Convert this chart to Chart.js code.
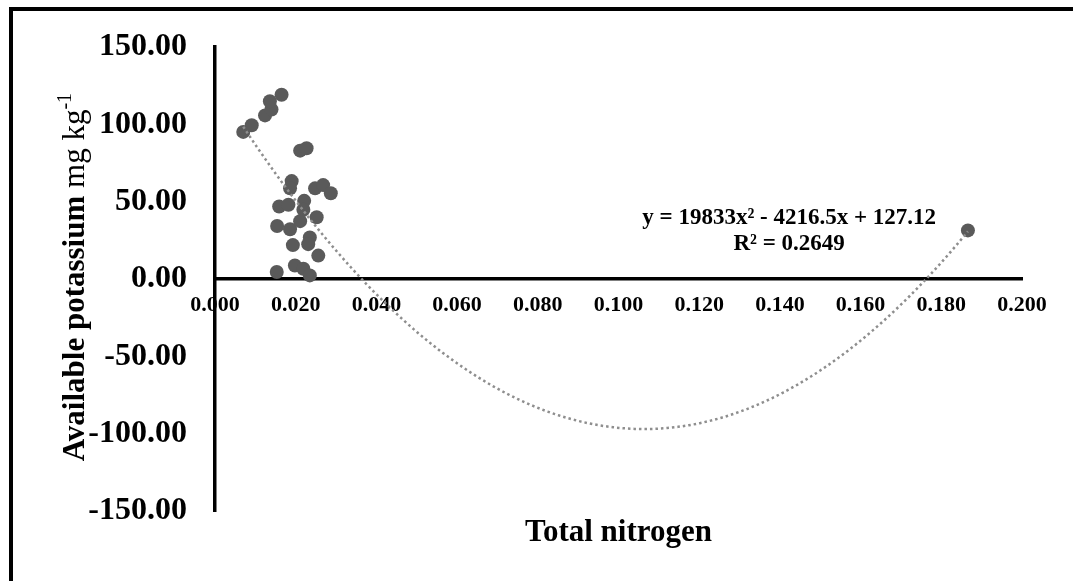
<!DOCTYPE html>
<html>
<head>
<meta charset="utf-8">
<script src="https://cdn.jsdelivr.net/npm/chart.js@4"></script>
<style>
  html, body { margin: 0; padding: 0; background: #fff; }
  #wrap { position: relative; width: 1073px; height: 581px; overflow: hidden; }
  #frame {
    position: absolute; left: 9px; top: 7px; width: 1100px; height: 600px;
    border-top: 4px solid #000; border-left: 4px solid #000; pointer-events: none;
  }
</style>
</head>
<body>
<div id="wrap">
  <canvas id="chart" width="1073" height="581"></canvas>
  <div id="frame"></div>
</div>
<script>
// Total nitrogen (x) vs available potassium (y)
const nitrogenValues = [
  0.0070, 0.0091, 0.0124, 0.0140, 0.0136, 0.0165, 0.0211, 0.0227, 0.0190, 0.0186,
  0.0248, 0.0268, 0.0287, 0.0159, 0.0182, 0.0221, 0.0219, 0.0252, 0.0154, 0.0186,
  0.0211, 0.0235, 0.0193, 0.0231, 0.0256, 0.0153, 0.0198, 0.0219, 0.0235, 0.1866
];
const potassiumValues = [
  95.2, 99.5, 105.9, 109.7, 115.0, 119.2, 83.1, 84.6, 63.4, 58.7,
  58.7, 60.8, 55.5, 47.0, 48.1, 50.6, 44.9, 40.0, 34.3, 32.2,
  37.5, 26.9, 22.0, 22.6, 15.2, 4.6, 8.8, 6.7, 2.4, 31.5
];
// polynomial trendline as printed on the chart: y = a x^2 + b x + c
const trendCoefs = [19833, -4216.5, 127.12];
const equationLines = ['y = 19833x² - 4216.5x + 127.12', 'R² = 0.2649'];

const xTicks = { min: 0, max: 0.2, step: 0.02 };
const yTicks = { min: -150, max: 150, step: 50 };

const serif = "'Liberation Serif', 'Times New Roman', serif";

const points = nitrogenValues.map((x, i) => ({ x: x, y: potassiumValues[i] }));

const xStart = Math.min(...nitrogenValues);
const xEnd = Math.max(...nitrogenValues);
const trendPoints = [];
for (let i = 0; i <= 200; i++) {
    const x = xStart + (xEnd - xStart) * i / 200;
    trendPoints.push({ x: x, y: trendCoefs[0] * x * x + trendCoefs[1] * x + trendCoefs[2] });
}

// axis titles and equation label
const textPlugin = {
    id: 'textPlugin',
    afterDraw(chart) {
        const ctx = chart.ctx;
        const area = chart.chartArea;
        const xs = chart.scales.x;
        const ys = chart.scales.y;
        ctx.save();
        ctx.fillStyle = '#000';

        // x title
        ctx.font = 'bold 31px ' + serif;
        ctx.textAlign = 'center';
        ctx.textBaseline = 'middle';
        ctx.fillText('Total nitrogen', (area.left + area.right) / 2, area.bottom + 22);

        // y title, bold + regular + superscript
        const boldPart = 'Available potassium';
        const regPart = ' mg kg';
        const supPart = '-1';
        ctx.font = 'bold 31px ' + serif;
        const w1 = ctx.measureText(boldPart).width;
        ctx.font = '31px ' + serif;
        const w2 = ctx.measureText(regPart).width;
        ctx.font = '20px ' + serif;
        const w3 = ctx.measureText(supPart).width;
        const total = w1 + w2 + w3;
        ctx.translate(74, (area.top + area.bottom) / 2 - 2);
        ctx.rotate(-Math.PI / 2);
        ctx.textAlign = 'left';
        ctx.textBaseline = 'alphabetic';
        let pos = -total / 2;
        ctx.font = 'bold 31px ' + serif;
        ctx.fillText(boldPart, pos, 10);
        pos += w1;
        ctx.font = '31px ' + serif;
        ctx.fillText(regPart, pos, 10);
        pos += w2;
        ctx.font = '20px ' + serif;
        ctx.fillText(supPart, pos, -3);
        ctx.restore();

        // equation
        ctx.save();
        ctx.fillStyle = '#000';
        ctx.font = 'bold 23px ' + serif;
        ctx.textAlign = 'center';
        ctx.textBaseline = 'middle';
        const ex = xs.getPixelForValue(0.1423);
        const ey = ys.getPixelForValue(39.5);
        ctx.fillText(equationLines[0], ex, ey);
        ctx.fillText(equationLines[1], ex, ey + 26);
        ctx.restore();
    }
};

new Chart(document.getElementById('chart'), {
    type: 'scatter',
    data: {
        datasets: [
            {
                type: 'line',
                data: trendPoints,
                borderColor: '#8e8e8e',
                borderWidth: 2.5,
                borderDash: [2.5, 3],
                pointRadius: 0,
                fill: false,
                tension: 0,
                order: 0
            },
            {
                data: points,
                backgroundColor: '#5a5a5a',
                borderWidth: 0,
                pointRadius: 7,
                order: 1
            }
        ]
    },
    options: {
        responsive: false,
        animation: false,
        events: [],
        layout: {
            padding: { left: 0, top: 40, right: 51, bottom: 70 }
        },
        plugins: {
            legend: { display: false },
            tooltip: { enabled: false }
        },
        scales: {
            x: {
                type: 'linear',
                position: { y: 0 },
                min: xTicks.min,
                max: xTicks.max,
                grid: { display: false, drawTicks: false },
                border: { display: true, color: '#000', width: 3.5 },
                ticks: {
                    stepSize: xTicks.step,
                    autoSkip: false,
                    maxRotation: 0,
                    padding: 13,
                    color: '#000',
                    font: { family: serif, size: 22, weight: 'bold' },
                    callback: v => Number(v).toFixed(3)
                }
            },
            y: {
                type: 'linear',
                position: 'left',
                min: yTicks.min,
                max: yTicks.max,
                afterFit(scale) { scale.width = 215; },
                grid: { display: false, drawTicks: false },
                border: { display: true, color: '#000', width: 3.5 },
                ticks: {
                    stepSize: yTicks.step,
                    padding: 28,
                    color: '#000',
                    font: { family: serif, size: 32, weight: 'bold' },
                    callback: v => Number(v).toFixed(2)
                }
            }
        }
    },
    plugins: [textPlugin]
});
</script>
</body>
</html>
